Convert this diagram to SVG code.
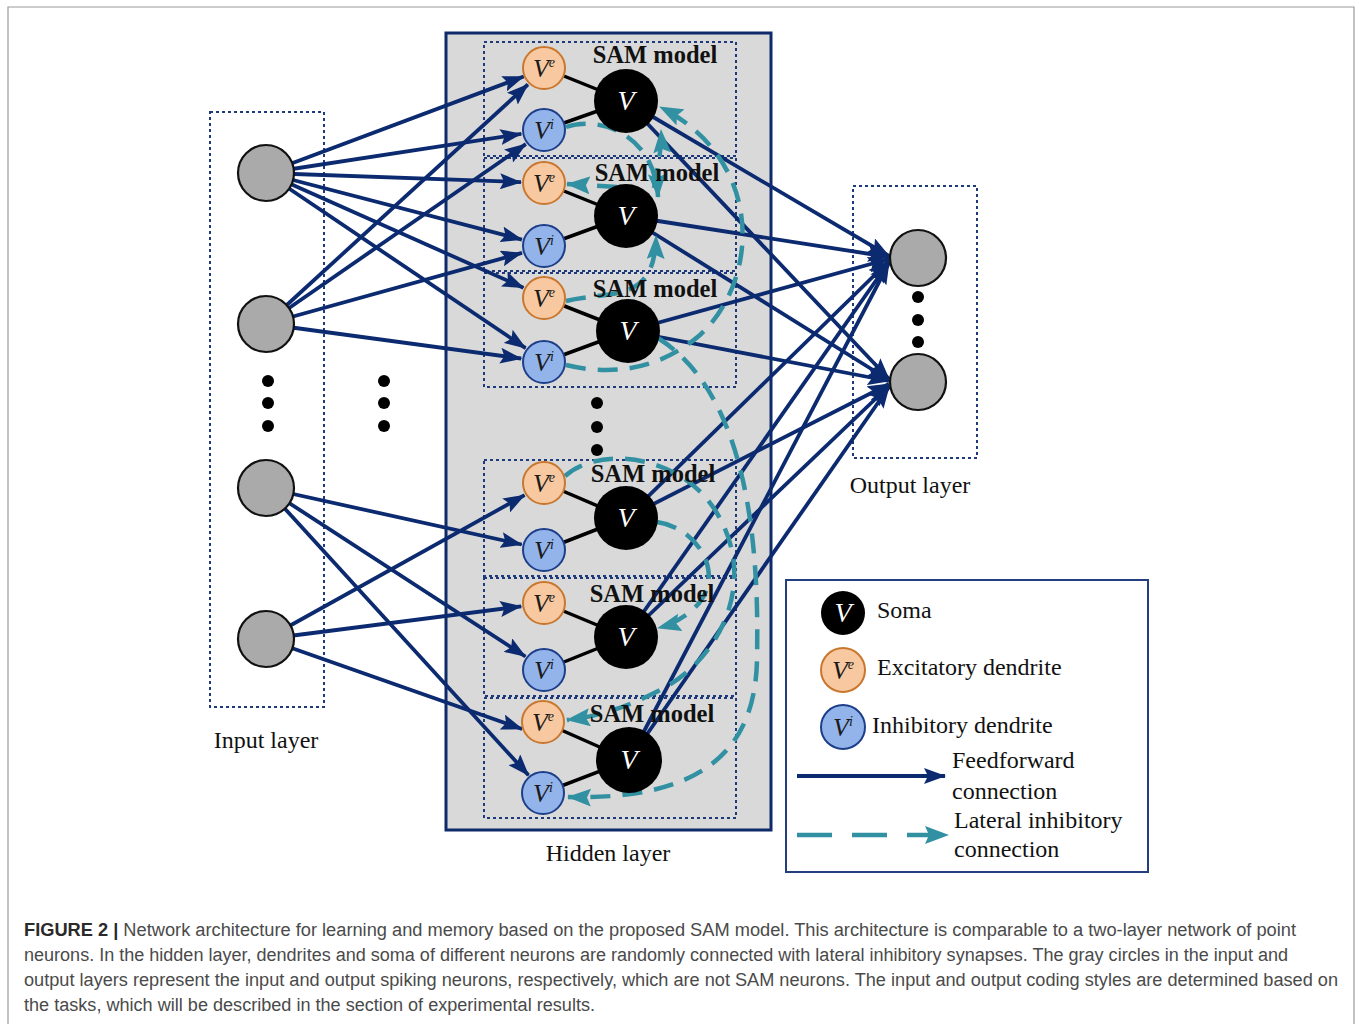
<svg xmlns="http://www.w3.org/2000/svg" width="1359" height="1024" viewBox="0 0 1359 1024">
<defs>
<style>
.dotbox{fill:none;stroke:#1f3a7a;stroke-width:2;stroke-dasharray:3 3}
.ff{fill:none;stroke:#0b2a6f;stroke-width:3.8;marker-end:url(#ah)}
.lat{fill:none;stroke:#3190a2;stroke-width:4.5;stroke-dasharray:20 12;marker-end:url(#aht)}
.link{stroke:#000;stroke-width:3.5}
.io{fill:#aaaaaa;stroke:#111;stroke-width:2.2}
.ve{fill:#f8c9a0;stroke:#c9772e;stroke-width:2}
.vi{fill:#93b4ea;stroke:#1d3f8a;stroke-width:2}
.soma{fill:#000}
.dot{fill:#000}
.vd{font-family:"Liberation Serif",serif;font-style:italic;font-size:26px;fill:#1a1a1a;text-anchor:middle}
.sup{font-size:14px}
.vs{font-family:"Liberation Serif",serif;font-style:italic;font-size:28px;fill:#fff;text-anchor:middle}
.sam{font-family:"Liberation Serif",serif;font-weight:bold;font-size:24.5px;fill:#111;text-anchor:middle}
.lbl{font-family:"Liberation Serif",serif;font-size:24px;fill:#111}
.cap{font-family:"Liberation Sans",Arial,sans-serif;font-size:18px;fill:#4a4a4a}
.capb{font-weight:bold;fill:#2a2a2a}
</style>
<marker id="ah" viewBox="0 0 22 16" refX="21" refY="8" markerWidth="22" markerHeight="16" markerUnits="userSpaceOnUse" orient="auto"><path d="M0,0 L22,8 L0,16 L4,8 z" fill="#0b2a6f"/></marker>
<marker id="aht" viewBox="0 0 24 18" refX="23" refY="9" markerWidth="24" markerHeight="18" markerUnits="userSpaceOnUse" orient="auto"><path d="M0,0 L24,9 L0,18 L4,9 z" fill="#3190a2"/></marker>
</defs>

<rect width="1359" height="1024" fill="#fff"/>
<path d="M8,1024 V7 H1354 V1024" fill="none" stroke="#9a9a9a" stroke-width="1.2"/>

<g id="layers">
<rect id="input-box" class="dotbox" x="210" y="112" width="114" height="595"/>
<rect id="hidden-box" x="446" y="33" width="325" height="797" fill="#d9d9d9" stroke="#0f2a6b" stroke-width="3"/>
<rect id="output-box" class="dotbox" x="853" y="186" width="124" height="272"/>
<rect class="dotbox" x="484" y="42" width="252" height="114"/>
<rect class="dotbox" x="484" y="158" width="252" height="113"/>
<rect class="dotbox" x="484" y="273" width="252" height="114"/>
<rect class="dotbox" x="484" y="460" width="252" height="116"/>
<rect class="dotbox" x="484" y="578" width="252" height="118"/>
<rect class="dotbox" x="484" y="698" width="252" height="120"/>
</g>

<g id="connectors">
<g id="dendrite-links">
<line class="link" x1="544" y1="68" x2="626" y2="101"/><line class="link" x1="544" y1="130" x2="626" y2="101"/>
<line class="link" x1="544" y1="183" x2="626" y2="216"/><line class="link" x1="544" y1="246" x2="626" y2="216"/>
<line class="link" x1="544" y1="298" x2="628" y2="331"/><line class="link" x1="544" y1="362" x2="628" y2="331"/>
<line class="link" x1="544" y1="483" x2="626" y2="518"/><line class="link" x1="544" y1="550" x2="626" y2="518"/>
<line class="link" x1="544" y1="603" x2="626" y2="637"/><line class="link" x1="544" y1="670" x2="626" y2="637"/>
<line class="link" x1="543" y1="722" x2="629" y2="760"/><line class="link" x1="543" y1="793" x2="629" y2="760"/>
</g>
<g id="feedforward">
<path class="ff" d="M266,173 L523.7,76.5"/>
<path class="ff" d="M266,173 L521.3,133.9"/>
<path class="ff" d="M266,173 L521,182.1"/>
<path class="ff" d="M266,173 L521.9,239.6"/>
<path class="ff" d="M266,173 L523.4,287.7"/>
<path class="ff" d="M266,173 L525.6,348.1"/>
<path class="ff" d="M266,324 L527.9,84.5"/>
<path class="ff" d="M266,324 L525.8,144.1"/>
<path class="ff" d="M266,324 L522,252.9"/>
<path class="ff" d="M266,324 L521.2,358.5"/>
<path class="ff" d="M266,488 L521.7,544.5"/>
<path class="ff" d="M266,488 L525.4,656.5"/>
<path class="ff" d="M266,488 L528.5,775.2"/>
<path class="ff" d="M266,639 L524.5,495.2"/>
<path class="ff" d="M266,639 L521.2,606.3"/>
<path class="ff" d="M266,639 L522.1,729"/>
<path class="ff" d="M626,101 L889,256"/>
<path class="ff" d="M626,101 L889,379"/>
<path class="ff" d="M626,216 L889,257"/>
<path class="ff" d="M626,216 L889,380"/>
<path class="ff" d="M628,331 L889,259"/>
<path class="ff" d="M628,331 L889,381"/>
<path class="ff" d="M626,518 L889,261"/>
<path class="ff" d="M626,518 L889,384"/>
<path class="ff" d="M626,637 L889,262"/>
<path class="ff" d="M626,637 L889,386"/>
<path class="ff" d="M629,760 L889,263"/>
<path class="ff" d="M629,760 L889,387"/>
</g>
<g id="lateral">
<path class="lat" d="M566,127 C600,115 655,135 658,197"/>
<path class="lat" d="M654,188 C658,165 662,148 661,130"/>
<path class="lat" d="M617,187 L567,184"/>
<path class="lat" d="M566,301 C610,290 655,305 656,236"/>
<path class="lat" d="M566,365 C620,378 665,365 700,335 C760,280 765,160 660,107"/>
<path class="lat" d="M658,338 C740,390 760,520 757,660 C755,760 690,800 568,797"/>
<path class="lat" d="M657,522 C700,528 730,580 690,612 C680,620 670,625 658,628"/>
<path class="lat" d="M565,476 C600,445 680,455 715,510 C760,580 720,660 660,690 C625,708 600,716 567,720"/>
</g>
</g>

<g id="input-layer">
<g id="in1"><circle class="io" cx="266" cy="173" r="28"/></g>
<g id="in2"><circle class="io" cx="266" cy="324" r="28"/></g>
<g id="in3"><circle class="io" cx="266" cy="488" r="28"/></g>
<g id="in4"><circle class="io" cx="266" cy="639" r="28"/></g>
<g id="in-dots">
<circle class="dot" cx="268" cy="381" r="6"/><circle class="dot" cx="268" cy="403" r="6"/><circle class="dot" cx="268" cy="426" r="6"/>
<circle class="dot" cx="384" cy="381" r="6"/><circle class="dot" cx="384" cy="403" r="6"/><circle class="dot" cx="384" cy="426" r="6"/>
</g>
<text class="lbl" x="266" y="748" text-anchor="middle">Input layer</text>
</g>

<g id="hidden-layer">
<g id="sam1">
<circle class="ve" cx="544" cy="68" r="21"/><text class="vd" x="544" y="77">V<tspan class="sup" dy="-10">e</tspan></text>
<circle class="vi" cx="544" cy="130" r="21"/><text class="vd" x="544" y="139">V<tspan class="sup" dy="-10">i</tspan></text>
<circle class="soma" cx="626" cy="101" r="32"/><text class="vs" x="626" y="110">V</text>
<text class="sam" x="655" y="63">SAM model</text>
</g>
<g id="sam2">
<circle class="ve" cx="544" cy="183" r="21"/><text class="vd" x="544" y="192">V<tspan class="sup" dy="-10">e</tspan></text>
<circle class="vi" cx="544" cy="246" r="21"/><text class="vd" x="544" y="255">V<tspan class="sup" dy="-10">i</tspan></text>
<circle class="soma" cx="626" cy="216" r="32"/><text class="vs" x="626" y="225">V</text>
<text class="sam" x="657" y="181">SAM model</text>
</g>
<g id="sam3">
<circle class="ve" cx="544" cy="298" r="21"/><text class="vd" x="544" y="307">V<tspan class="sup" dy="-10">e</tspan></text>
<circle class="vi" cx="544" cy="362" r="21"/><text class="vd" x="544" y="371">V<tspan class="sup" dy="-10">i</tspan></text>
<circle class="soma" cx="628" cy="331" r="32"/><text class="vs" x="628" y="340">V</text>
<text class="sam" x="655" y="297">SAM model</text>
</g>
<g id="hidden-dots"><circle class="dot" cx="597" cy="403" r="6"/><circle class="dot" cx="597" cy="427" r="6"/><circle class="dot" cx="597" cy="450" r="6"/></g>
<g id="sam4">
<circle class="ve" cx="544" cy="483" r="21"/><text class="vd" x="544" y="492">V<tspan class="sup" dy="-10">e</tspan></text>
<circle class="vi" cx="544" cy="550" r="21"/><text class="vd" x="544" y="559">V<tspan class="sup" dy="-10">i</tspan></text>
<circle class="soma" cx="626" cy="518" r="32"/><text class="vs" x="626" y="527">V</text>
<text class="sam" x="653" y="482">SAM model</text>
</g>
<g id="sam5">
<circle class="ve" cx="544" cy="603" r="21"/><text class="vd" x="544" y="612">V<tspan class="sup" dy="-10">e</tspan></text>
<circle class="vi" cx="544" cy="670" r="21"/><text class="vd" x="544" y="679">V<tspan class="sup" dy="-10">i</tspan></text>
<circle class="soma" cx="626" cy="637" r="32"/><text class="vs" x="626" y="646">V</text>
<text class="sam" x="652" y="602">SAM model</text>
</g>
<g id="sam6">
<circle class="ve" cx="543" cy="722" r="21"/><text class="vd" x="543" y="731">V<tspan class="sup" dy="-10">e</tspan></text>
<circle class="vi" cx="543" cy="793" r="21"/><text class="vd" x="543" y="802">V<tspan class="sup" dy="-10">i</tspan></text>
<circle class="soma" cx="629" cy="760" r="33"/><text class="vs" x="629" y="769">V</text>
<text class="sam" x="652" y="722">SAM model</text>
</g>
<text class="lbl" x="608" y="861" text-anchor="middle">Hidden layer</text>
</g>

<g id="output-layer">
<g id="out1"><circle class="io" cx="918" cy="258" r="28"/></g>
<g id="out2"><circle class="io" cx="918" cy="382" r="28"/></g>
<g id="out-dots"><circle class="dot" cx="918" cy="297" r="6"/><circle class="dot" cx="918" cy="320" r="6"/><circle class="dot" cx="918" cy="342" r="6"/></g>
<text class="lbl" x="910" y="493" text-anchor="middle">Output layer</text>
</g>

<g id="legend">
<rect x="786" y="580" width="362" height="292" fill="#fff" stroke="#233f80" stroke-width="2"/>
<circle class="soma" cx="843" cy="613" r="22"/><text class="vs" x="843" y="622">V</text>
<text class="lbl" x="877" y="618">Soma</text>
<circle class="ve" cx="843" cy="670" r="22"/><text class="vd" x="843" y="679">V<tspan class="sup" dy="-10">e</tspan></text>
<text class="lbl" x="877" y="675">Excitatory dendrite</text>
<circle class="vi" cx="843" cy="727" r="22"/><text class="vd" x="843" y="736">V<tspan class="sup" dy="-10">i</tspan></text>
<text class="lbl" x="872" y="733">Inhibitory dendrite</text>
<path d="M797,776 H945" fill="none" stroke="#0b2a6f" stroke-width="4" marker-end="url(#ah)"/>
<text class="lbl" x="952" y="768">Feedforward</text>
<text class="lbl" x="952" y="799">connection</text>
<path d="M797,835 H948" fill="none" stroke="#3190a2" stroke-width="4.5" stroke-dasharray="35 20" marker-end="url(#aht)"/>
<text class="lbl" x="954" y="828">Lateral inhibitory</text>
<text class="lbl" x="954" y="857">connection</text>
</g>

<g id="caption">
<text class="cap" x="24" y="936" textLength="1272" lengthAdjust="spacingAndGlyphs"><tspan class="capb">FIGURE 2 |</tspan> Network architecture for learning and memory based on the proposed SAM model. This architecture is comparable to a two-layer network of point</text>
<text class="cap" x="24" y="961" textLength="1264" lengthAdjust="spacingAndGlyphs">neurons. In the hidden layer, dendrites and soma of different neurons are randomly connected with lateral inhibitory synapses. The gray circles in the input and</text>
<text class="cap" x="24" y="986" textLength="1314" lengthAdjust="spacingAndGlyphs">output layers represent the input and output spiking neurons, respectively, which are not SAM neurons. The input and output coding styles are determined based on</text>
<text class="cap" x="24" y="1011" textLength="571" lengthAdjust="spacingAndGlyphs">the tasks, which will be described in the section of experimental results.</text>
</g>
</svg>
